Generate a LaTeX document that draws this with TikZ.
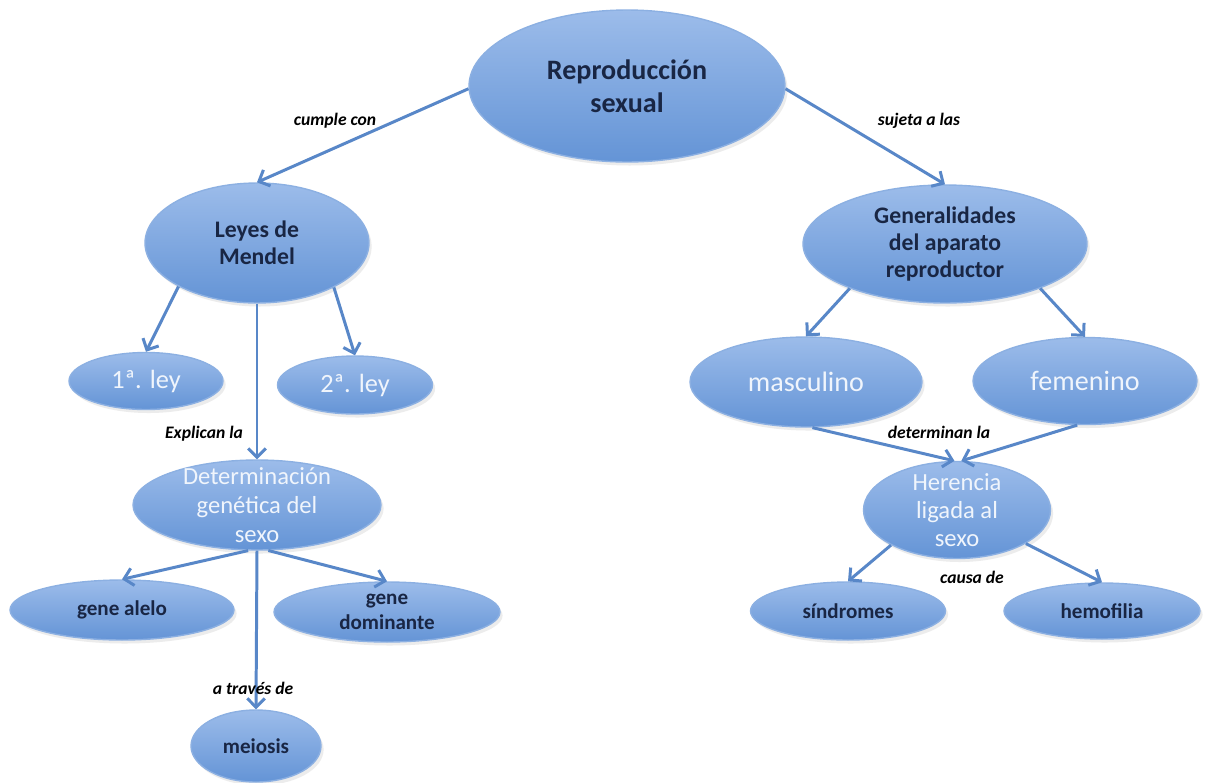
\documentclass[tikz,border=0pt]{standalone}
\usepackage{fontspec}
\setmainfont{Carlito}
\usetikzlibrary{shapes.geometric,arrows.meta,shadows}
\definecolor{blobtop}{RGB}{156,188,234}
\definecolor{blobbot}{RGB}{100,148,214}
\definecolor{blobline}{RGB}{140,176,226}
\definecolor{linkblue}{RGB}{88,135,200}
\definecolor{inkdark}{RGB}{25,38,68}
\definecolor{inklight}{RGB}{240,245,252}

\begin{document}
\begin{tikzpicture}[x=0.02cm, y=-0.02cm,
	blob/.style={ellipse, draw=blobline, line width=0.8pt, top color=blobtop, bottom color=blobbot, inner sep=0pt,
		drop shadow={opacity=0.15, shadow xshift=1.5pt, shadow yshift=-2pt}},
	dk/.style 2 args={text=inkdark, align=center, font=\fontsize{#1}{#2}\selectfont\bfseries},
	lt/.style 2 args={text=inklight, align=center, font=\fontsize{#1}{#2}\selectfont},
	tag/.style={text=black, font=\fontsize{10}{12}\selectfont\bfseries\itshape},
	link/.style={draw=linkblue, line width=1.7pt, -{Straight Barb[length=5pt,width=10pt]}}]
				\useasboundingbox[fill=white] (0,0) rectangle (1207,782);
				
				\node[blob, minimum width=6.32cm, minimum height=3.04cm, label={[dk={16}{18.5}]center:Reproducción\\sexual}] (rep) at (627,86) {};
				
				\node[blob, minimum width=4.48cm, minimum height=2.4cm, label={[dk={13.5}{15.5}]center:Leyes de\\Mendel}] (leyes) at (257,243) {};
				\node[blob, minimum width=3.08cm, minimum height=1.14cm, label={[lt={15}{17}]center:1ª. ley}] (ley1) at (146,381) {};
				\node[blob, minimum width=3.1cm, minimum height=1.16cm, label={[lt={15}{17}]center:2ª. ley}] (ley2) at (355,385) {};
				\node[blob, minimum width=4.96cm, minimum height=1.8cm, label={[lt={14}{16.5}]center:Determinación\\genética del\\sexo}] (det) at (257,505) {};
				\node[blob, minimum width=4.48cm, minimum height=1.2cm, label={[dk={12}{14}]center:gene alelo}] (alelo) at (122,610) {};
				\node[blob, minimum width=4.52cm, minimum height=1.2cm, label={[dk={12}{14}]center:gene\\dominante}] (domin) at (387,612) {};
				\node[blob, minimum width=2.6cm, minimum height=1.44cm, label={[dk={12}{14}]center:meiosis}] (meio) at (256,746) {};
				
				\node[blob, minimum width=5.68cm, minimum height=2.36cm, label={[dk={13.5}{15.5}]center:Generalidades\\del aparato\\reproductor}] (gen) at (945,244) {};
				\node[blob, minimum width=4.64cm, minimum height=1.8cm, label={[lt={16}{18}]center:masculino}] (masc) at (806,382) {};
				\node[blob, minimum width=4.48cm, minimum height=1.74cm, label={[lt={16}{18}]center:femenino}] (fem) at (1085,381) {};
				\node[blob, minimum width=3.74cm, minimum height=1.94cm, label={[lt={14}{16}]center:Herencia\\ligada al\\sexo}] (her) at (957,510) {};
				\node[blob, minimum width=3.9cm, minimum height=1.16cm, label={[dk={12}{14}]center:síndromes}] (sind) at (848,611) {};
				\node[blob, minimum width=3.92cm, minimum height=1.12cm, label={[dk={12}{14}]center:hemofilia}] (hemo) at (1102,611) {};
				
				\draw[link] (rep.181) -- (leyes.north);
				\draw[link] (rep.-1) -- (gen.north);
				\draw[link] (leyes.-151) -- (ley1.north);
				\draw[link] (leyes.-30) -- (ley2.north);
				\draw[link] (leyes.south) -- (det.north);
				\draw[link] (det.-101) -- (alelo.north);
				\draw[link] (det.-76) -- (domin.north);
				\draw[link] (det.south) -- (meio.north);
				\draw[link] (gen.-155) -- (masc.north);
				\draw[link] (gen.-25) -- (fem.north);
				\draw[link] (masc.-82) -- (her.93);
				\draw[link] (fem.-100) -- (her.85);
				\draw[link] (her.-152) -- (sind.north);
				\draw[link] (her.-26) -- (hemo.north);
				
				\node[tag] (cumple) at (335,121) {cumple con};
				\node[tag] (sujeta) at (919,121) {sujeta a las};
				\node[tag] (explican) at (204,434) {Explican la};
				\node[tag] (traves) at (253,688) {a través de};
				\node[tag] (determinan) at (939,432) {determinan la};
				\node[tag] (causa) at (972,577) {causa de};
			\end{tikzpicture}
\end{document}
